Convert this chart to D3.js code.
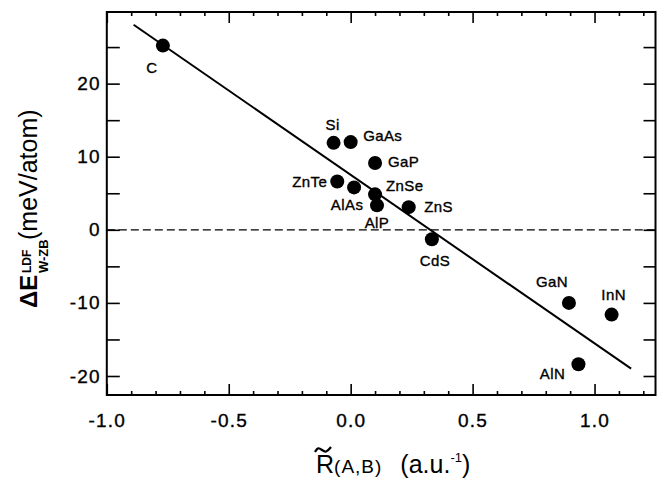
<!DOCTYPE html>
<html lang="en">
<head>
<meta charset="UTF-8">
<title>dE W-ZB vs R(A,B)</title>
<style>
  body { margin: 0; background: #fff; }
  svg text { font-family: "Liberation Sans", Arial, sans-serif; fill: #000; }
</style>
</head>
<body>
<svg width="658" height="478" id="svg"></svg>
<script src="https://d3js.org/d3.v7.min.js"></script>
<script>
// compounds and values
const names = ["C", "Si", "GaAs", "GaP", "ZnTe", "AlAs", "ZnSe", "AlP", "ZnS", "CdS", "GaN", "InN", "AlN"]
const rValues = [-0.77, -0.07, 0.0, 0.10, -0.055, 0.014, 0.10, 0.108, 0.238, 0.333, 0.895, 1.07, 0.934]
const dEValues = [25.2, 11.9, 12.0, 9.15, 6.6, 5.8, 4.85, 3.35, 3.1, -1.3, -10.0, -11.6, -18.4]

// straight line fit (end points)
const fitX = [-0.89, 1.15]
const fitY = [28.05, -19.0]

const xMajor = [-1.0, -0.5, 0.0, 0.5, 1.0]
const xMinor = [-0.9, -0.8, -0.7, -0.6, -0.4, -0.3, -0.2, -0.1, 0.1, 0.2, 0.3, 0.4, 0.6, 0.7, 0.8, 0.9, 1.1, 1.2]
const yTicks = [-20, -15, -10, -5, 0, 5, 10, 15, 20, 25]
const yLabelled = [-20, -10, 0, 10, 20]

const svg = d3.select("svg#svg")
const padding = { top: 12, right: 2.5, bottom: 83, left: 106.8 }
const width = +svg.attr("width")
const height = +svg.attr("height")

const xScale = d3.scaleLinear().domain([-1.0, 1.25]).range([padding.left, width - padding.right])
const yScale = d3.scaleLinear().domain([-22.6, 29.8]).range([height - padding.bottom, padding.top])

const x0 = xScale.range()[0], x1 = xScale.range()[1]
const y0 = yScale.range()[0], y1 = yScale.range()[1]

// axes, all ticks point inwards
function noLabels(g) { g.selectAll("text").remove() }
function styleAxis(g) {
  g.select(".domain").remove()
  g.selectAll(".tick line").attr("stroke", "#000").attr("stroke-width", 1.6)
}
function heavy(sel) { sel.attr("stroke", "#000").attr("stroke-width", 0.35) }

svg.append("g").attr("transform", `translate(0,${y0})`)
  .call(d3.axisBottom(xScale).tickValues(xMajor).tickSize(-11).tickPadding(19))
  .call(styleAxis)
  .call(g => g.selectAll("text").attr("font-size", 19).attr("letter-spacing", 1.2)
    .text(d => d3.format(".1f")(d).replace("−", "-")).call(heavy))
svg.append("g").attr("transform", `translate(0,${y0})`)
  .call(d3.axisBottom(xScale).tickValues(xMinor).tickSize(-4)).call(styleAxis).call(noLabels)

svg.append("g").attr("transform", `translate(0,${y1})`)
  .call(d3.axisTop(xScale).tickValues(xMajor).tickSize(-11)).call(styleAxis).call(noLabels)
svg.append("g").attr("transform", `translate(0,${y1})`)
  .call(d3.axisTop(xScale).tickValues(xMinor).tickSize(-4)).call(styleAxis).call(noLabels)

svg.append("g").attr("transform", `translate(${x0},0)`)
  .call(d3.axisLeft(yScale).tickValues(yTicks).tickSize(-13).tickPadding(6)
    .tickFormat(d => yLabelled.includes(d) ? String(d) : ""))
  .call(styleAxis)
  .call(g => g.selectAll("text").attr("font-size", 19).attr("letter-spacing", 1.2).call(heavy))

svg.append("g").attr("transform", `translate(${x1},0)`)
  .call(d3.axisRight(yScale).tickValues(yTicks).tickSize(-12)).call(styleAxis).call(noLabels)

// frame
svg.append("rect")
  .attr("x", x0).attr("y", y1).attr("width", x1 - x0).attr("height", y0 - y1)
  .attr("fill", "none").attr("stroke", "#000").attr("stroke-width", 2)

// zero line
svg.append("line")
  .attr("x1", x0).attr("x2", x1).attr("y1", yScale(0)).attr("y2", yScale(0))
  .attr("stroke", "#000").attr("stroke-width", 1.3).attr("stroke-dasharray", "8,4")

// fit line
svg.append("line")
  .attr("x1", xScale(fitX[0])).attr("y1", yScale(fitY[0]))
  .attr("x2", xScale(fitX[1])).attr("y2", yScale(fitY[1]))
  .attr("stroke", "#000").attr("stroke-width", 2)

const points = names.map((n, i) => ({ name: n, r: rValues[i], e: dEValues[i] }))

svg.selectAll("circle.pt").data(points).join("circle").attr("class", "pt")
  .attr("cx", d => xScale(d.r)).attr("cy", d => yScale(d.e)).attr("r", 7).attr("fill", "#000")

// label placement next to each dot: [dx, dy, anchor]
const labelPos = {
  C: [-11, 22, "middle"], Si: [-1, -18, "middle"], GaAs: [12.5, -7, "start"],
  GaP: [13, -1.5, "start"], ZnTe: [-10, 0.5, "end"], AlAs: [-7, 17, "middle"],
  ZnSe: [11, -9, "start"], AlP: [0, 17.5, "middle"], ZnS: [15.5, -0.5, "start"],
  CdS: [3, 21, "middle"], GaN: [-17, -21, "middle"], InN: [2, -20, "middle"],
  AlN: [-26, 9, "middle"]
}
svg.selectAll("text.lbl").data(points).join("text").attr("class", "lbl")
  .attr("x", d => xScale(d.r) + labelPos[d.name][0])
  .attr("y", d => yScale(d.e) + labelPos[d.name][1])
  .attr("dy", "0.36em")
  .attr("text-anchor", d => labelPos[d.name][2])
  .attr("font-size", 15).attr("letter-spacing", 0.4)
  .text(d => d.name)
  .call(heavy)

// x title
const xt = svg.append("text").attr("x", 316).attr("y", 473).attr("font-size", 25)
xt.append("tspan").text("R")
xt.append("tspan").attr("font-size", 19).attr("letter-spacing", 1).text("(A,B)")
xt.append("tspan").attr("dx", 18).text("(a.u.")
xt.append("tspan").attr("font-size", 13).attr("dx", 0).attr("dy", -11).text("-1")
xt.append("tspan").attr("dy", 11).text(")")
// tilde over the R
svg.append("path")
  .attr("d", d3.line().curve(d3.curveBasis)([[315, 452], [318, 447], [322, 450], [326, 453], [331, 447]]))
  .attr("fill", "none").attr("stroke", "#000").attr("stroke-width", 2.2)

// y title
const yt = svg.append("g").attr("transform", "translate(37,308) rotate(-90)")
yt.append("text").attr("font-size", 24).attr("font-weight", "bold").text("ΔE")
yt.append("text").attr("x", 35).attr("y", 11).attr("font-size", 13).attr("font-weight", "bold").text("W-ZB")
yt.append("text").attr("x", 35).attr("y", -6).attr("font-size", 12).attr("font-weight", "bold").text("LDF")
yt.append("text").attr("x", 68).attr("font-size", 25).text("(meV/atom)")
</script>
</body>
</html>
